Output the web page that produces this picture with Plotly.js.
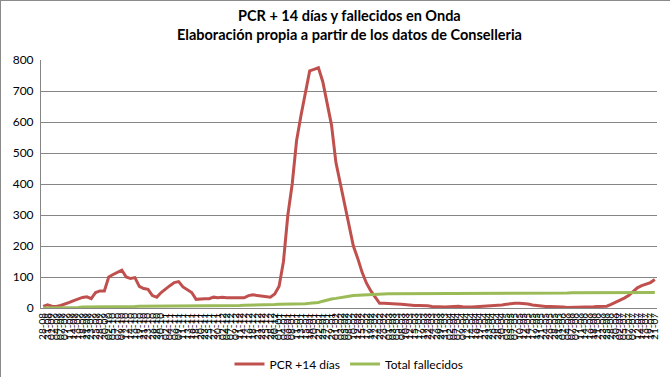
<!DOCTYPE html>
<html>
<head>
<meta charset="utf-8">
<script src="https://cdn.plot.ly/plotly-3.0.1.min.js"></script>
<style>
html,body{margin:0;padding:0;background:#fff;}
#chart{width:670px;height:377px;box-sizing:border-box;border:1px solid #8a8a8a;}
</style>
</head>
<body>
<div id="chart"></div>
<script>
const dates = [
"28-08","31-08",
"02-09","04-09","07-09","09-09","11-09","14-09","16-09","18-09","21-09","23-09","25-09","28-09","30-09",
"02-10","05-10","07-10","09-10","12-10","14-10","16-10","19-10","21-10","23-10","26-10","28-10","30-10",
"02-11","04-11","06-11","09-11","11-11","13-11","16-11","18-11","20-11","23-11","25-11","27-11","30-11",
"02-12","04-12","07-12","09-12","11-12","14-12","16-12","18-12","21-12","23-12","25-12","28-12","30-12",
"01-01","04-01","06-01","08-01","11-01","13-01","15-01","18-01","20-01","22-01","25-01","27-01","29-01",
"01-02","03-02","05-02","08-02","10-02","12-02","15-02","17-02","19-02","22-02","24-02","26-02",
"01-03","03-03","05-03","08-03","10-03","12-03","15-03","17-03","19-03","22-03","24-03","26-03","29-03","31-03",
"02-04","05-04","07-04","09-04","12-04","14-04","16-04","19-04","21-04","23-04","26-04","28-04","30-04",
"03-05","05-05","07-05","10-05","12-05","14-05","17-05","19-05","21-05","24-05","26-05","28-05","31-05",
"02-06","04-06","07-06","09-06","11-06","14-06","16-06","18-06","21-06","23-06","25-06","28-06","30-06",
"02-07","05-07","07-07","09-07","12-07","14-07","16-07","19-07","21-07"
];

const pcr14 = [
5,10,6,5,8,12,18,24,30,34,
36,30,50,55,55,100,108,115,122,100,
95,98,70,63,60,40,35,50,62,72,
82,85,68,60,50,28,30,30,30,35,
33,35,33,32,33,33,33,40,43,40,
38,36,35,45,70,150,300,400,540,620,
690,765,770,775,730,660,590,470,400,340,
270,200,160,115,80,55,35,15,15,15,
15,13,12,10,9,8,8,8,7,5,
4,3,3,4,5,6,4,3,3,4,
5,5,5,6,8,10,12,14,15,15,
15,13,10,8,6,5,5,5,4,3,
2,2,2,2,2,3,4,5,5,6,
12,18,25,32,40,52,65,72,78,82,
92
];

const fallecidos = [
0,0,1,1,2,2,2,2,2,3,
3,3,3,4,4,4,4,5,5,5,
5,5,6,6,6,6,7,7,7,7,
8,8,8,8,8,8,8,8,8,8,
8,8,8,8,8,8,9,9,9,9,
10,10,11,11,12,12,12,12,12,13,
14,15,16,18,22,26,29,31,34,36,
38,40,41,42,43,44,45,45,46,46,
46,46,46,46,47,47,47,47,47,47,
47,47,47,47,47,47,47,47,47,47,
47,47,47,47,47,47,47,47,47,47,
47,48,48,48,48,48,48,48,48,48,
48,49,49,49,49,49,49,49,49,49,
49,50,50,50,50,50,50,50,50,50,
50
];

const seriesNames = ["PCR +14 días", "Total fallecidos"];
const titleLines = ["PCR + 14 días y fallecidos en Onda", "Elaboración propia a partir de los datos de Conselleria"];

const traces = [
  {x: dates, y: pcr14, type: "scatter", mode: "lines", name: seriesNames[0],
   line: {color: "#C0504D", width: 3}},
  {x: dates, y: fallecidos, type: "scatter", mode: "lines", name: seriesNames[1],
   line: {color: "#9BBB59", width: 3}}
];

const layout = {
  width: 670, height: 377,
  margin: {l: 40, r: 14, t: 59, b: 70, pad: 0, autoexpand: false},
  paper_bgcolor: "#ffffff", plot_bgcolor: "#ffffff",
  font: {family: "Lato, 'Open Sans', sans-serif", color: "#000"},
  annotations: [
    {text: "<b>" + titleLines[0] + "</b>", xref: "paper", yref: "paper", x: 0.5, y: 1 + 44/248,
     xanchor: "center", yanchor: "middle", showarrow: false,
     font: {family: "Lato, sans-serif", size: 14.5, color: "#000"}},
    {text: "<b>" + titleLines[1] + "</b>", xref: "paper", yref: "paper", x: 0.5, y: 1 + 25/248,
     xanchor: "center", yanchor: "middle", showarrow: false,
     font: {family: "Lato, sans-serif", size: 14.5, color: "#000"}}
  ],
  xaxis: {
    type: "category",
    range: [-0.5, dates.length - 0.5],
    tickmode: "linear", dtick: 1,
    tickangle: -90,
    tickfont: {size: 10, family: "Lato, sans-serif", color: "#000"},
    showline: true, linecolor: "#868686", linewidth: 1,
    showgrid: false, zeroline: false,
    ticks: "", automargin: false, fixedrange: true
  },
  yaxis: {
    range: [0, 800], dtick: 100, tick0: 0,
    tickfont: {size: 12, family: "Lato, sans-serif", color: "#000"},
    showline: true, linecolor: "#868686", linewidth: 1,
    showgrid: true, gridcolor: "#868686", gridwidth: 1,
    zeroline: false, ticks: "", ticklabelstandoff: 4, automargin: false, fixedrange: true
  },
  legend: {
    orientation: "h", x: 0.5, xanchor: "center", xref: "paper",
    y: 14/377, yanchor: "middle", yref: "container",
    font: {size: 12, family: "Lato, sans-serif", color: "#000"},
    itemwidth: 30, tracegroupgap: 0
  },
  showlegend: true
};

Plotly.newPlot("chart", traces, layout, {displayModeBar: false, staticPlot: true});
</script>
</body>
</html>
